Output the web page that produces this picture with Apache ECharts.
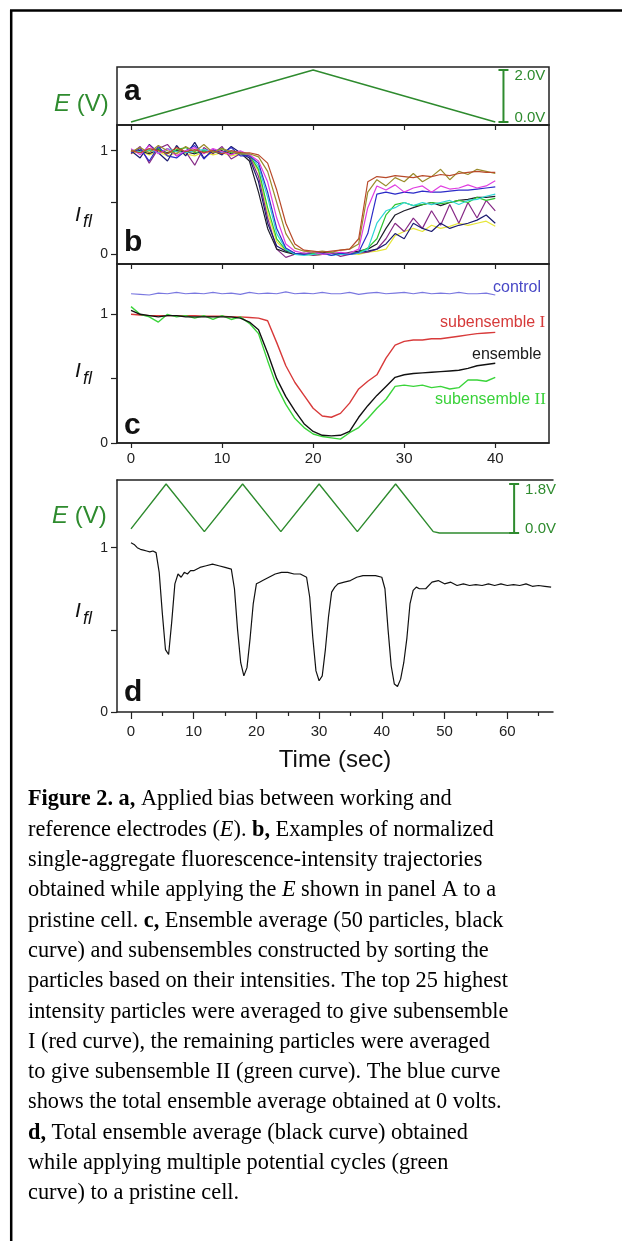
<!DOCTYPE html>
<html>
<head>
<meta charset="utf-8">
<script src="https://cdn.jsdelivr.net/npm/echarts@6/dist/echarts.min.js"></script>
<style>
html,body{margin:0;padding:0;background:#fff;}
#chart{width:622px;height:1241px;}
</style>
</head>
<body>
<div id="chart"></div>
<script>
// ---------------- DATA ----------------
// Panel a: applied bias (V)
const eTimesA = [0, 20, 40];
const eValsA = [0, 2.0, 0];
const scaleA = { t: 40.9, lo: 0, hi: 2.0, labels: ['0.0V', '2.0V'] };

// Panel b: single-aggregate trajectories, t = 0..40 s (1 s steps)
const tB = [0,1,2,3,4,5,6,7,8,9,10,11,12,13,14,15,16,17,18,19,20,21,22,23,24,25,26,27,28,29,30,31,32,33,34,35,36,37,38,39,40];
const brownB  = [1.0,0.98,1.02,1.0,0.97,1.03,0.99,1.01,0.98,1.0,0.97,1.0,0.98,0.98,0.96,0.88,0.62,0.3,0.1,0.04,0.03,0.02,0.03,0.04,0.05,0.15,0.7,0.75,0.74,0.76,0.75,0.74,0.76,0.75,0.77,0.76,0.78,0.79,0.8,0.79,0.79];
const oliveB  = [0.99,1.03,0.98,1.05,1.0,0.97,1.04,0.99,1.06,0.98,1.02,0.99,0.97,0.97,0.94,0.8,0.5,0.2,0.06,0.03,0.02,0.03,0.02,0.04,0.05,0.1,0.6,0.72,0.66,0.74,0.7,0.78,0.7,0.75,0.82,0.72,0.8,0.77,0.82,0.8,0.78];
const magentaB= [1.02,0.96,1.05,0.97,1.02,0.95,1.0,1.03,0.97,1.02,0.99,0.96,1.0,0.96,0.9,0.7,0.35,0.1,0.03,0.01,0.02,0.0,0.01,0.02,0.01,0.05,0.45,0.66,0.62,0.67,0.6,0.64,0.66,0.6,0.66,0.63,0.64,0.67,0.64,0.66,0.71];
const blueB   = [0.98,1.02,0.9,1.04,0.95,0.93,1.0,1.05,0.92,1.01,0.97,1.03,0.95,0.95,0.88,0.6,0.25,0.06,0.01,0.0,0.02,0.01,-0.01,0.01,0.0,0.02,0.2,0.58,0.6,0.58,0.6,0.59,0.61,0.6,0.6,0.61,0.62,0.62,0.63,0.64,0.65];
const cyanB   = [1.0,0.99,1.01,0.98,1.02,0.99,0.98,1.0,1.01,0.99,0.98,1.0,0.97,0.97,0.85,0.55,0.2,0.05,0.0,-0.01,0.0,0.01,-0.01,0.0,0.0,0.01,0.05,0.3,0.42,0.45,0.5,0.47,0.5,0.48,0.5,0.52,0.48,0.52,0.53,0.56,0.58];
const greenB  = [1.01,0.98,1.0,1.02,0.97,1.01,1.03,0.98,1.0,0.99,1.02,0.98,0.99,0.96,0.82,0.45,0.15,0.04,0.01,0.0,0.01,0.0,0.02,0.0,0.01,0.02,0.06,0.15,0.38,0.48,0.5,0.47,0.48,0.5,0.49,0.5,0.52,0.5,0.55,0.52,0.54];
const blackB  = [0.99,1.0,0.97,1.01,0.98,1.0,0.99,0.97,1.0,0.98,1.0,0.97,0.98,0.9,0.6,0.25,0.05,0.02,0.0,0.01,0.0,0.02,0.01,0.0,0.02,0.03,0.05,0.1,0.25,0.38,0.42,0.45,0.48,0.5,0.47,0.5,0.52,0.53,0.55,0.55,0.56];
const purpleB = [0.97,1.04,0.88,1.02,1.06,0.95,0.99,0.86,1.03,0.97,1.04,0.92,0.97,0.95,0.75,0.35,0.05,-0.03,0.0,0.01,-0.01,0.0,0.02,-0.02,0.0,0.01,0.02,0.05,0.15,0.3,0.22,0.35,0.25,0.42,0.28,0.48,0.3,0.5,0.35,0.52,0.42];
const navyB   = [1.0,0.93,1.06,0.98,0.9,1.05,0.95,1.08,0.93,1.0,0.96,1.04,0.98,0.93,0.7,0.3,0.08,0.03,0.01,0.0,0.02,0.0,0.01,0.0,0.0,0.02,0.03,0.05,0.1,0.2,0.15,0.3,0.25,0.22,0.3,0.25,0.28,0.3,0.33,0.38,0.3];
const yellowB = [0.97,1.0,0.96,0.99,0.95,0.98,0.97,0.95,0.99,0.96,0.98,0.95,0.97,0.95,0.8,0.4,0.12,0.03,0.01,0.0,-0.01,0.0,0.01,0.0,0.01,0.0,0.02,0.03,0.05,0.18,0.22,0.25,0.22,0.28,0.25,0.27,0.3,0.28,0.3,0.32,0.27];

// Panel c: ensemble averages, t = 0..40 s
const tC = [0,1,2,3,4,5,6,7,8,9,10,11,12,13,14,15,16,17,18,19,20,21,22,23,24,25,26,27,28,29,30,31,32,33,34,35,36,37,38,39,40];
const controlC = [1.16,1.155,1.15,1.165,1.16,1.17,1.16,1.165,1.16,1.17,1.16,1.165,1.155,1.17,1.16,1.165,1.16,1.175,1.16,1.165,1.16,1.17,1.16,1.16,1.17,1.155,1.165,1.17,1.16,1.165,1.17,1.16,1.17,1.16,1.165,1.16,1.17,1.16,1.16,1.165,1.15];
const subIC = [1.00,0.995,0.99,0.99,0.99,0.99,0.99,0.99,0.985,0.985,0.985,0.98,0.98,0.975,0.97,0.95,0.78,0.60,0.47,0.37,0.27,0.21,0.20,0.23,0.31,0.42,0.48,0.53,0.66,0.76,0.79,0.80,0.80,0.81,0.81,0.82,0.83,0.84,0.85,0.855,0.86];
const ensembleC = [1.03,1.0,0.99,0.98,0.99,0.99,0.98,0.98,0.98,0.98,0.98,0.98,0.97,0.94,0.88,0.70,0.50,0.36,0.25,0.15,0.09,0.06,0.055,0.06,0.09,0.20,0.29,0.37,0.44,0.51,0.53,0.54,0.545,0.55,0.555,0.56,0.565,0.58,0.60,0.61,0.62];
const subIIC = [1.06,1.0,0.98,0.94,1.0,0.98,0.99,0.97,0.99,0.96,0.99,0.96,0.98,0.93,0.85,0.64,0.44,0.30,0.19,0.12,0.07,0.05,0.04,0.03,0.08,0.12,0.19,0.27,0.34,0.44,0.45,0.44,0.45,0.43,0.44,0.42,0.43,0.49,0.49,0.48,0.51];
const curveLabelsC = ['control', 'subensemble ', 'I', 'ensemble', 'subensemble ', 'II'];

// Panel d: total ensemble under multiple cycles, [t, I]
const ensembleD = [[0,1.03],[0.5,1.02],[1,1.0],[1.5,0.99],[2,0.985],[2.5,0.98],[3,0.975],[3.5,0.98],[4,0.97],[4.5,0.85],[5,0.6],[5.5,0.38],[6,0.35],[6.5,0.55],[7,0.78],[7.5,0.84],[8,0.82],[8.5,0.85],[9,0.84],[9.5,0.86],[10,0.86],[11,0.88],[12,0.89],[13,0.9],[14,0.89],[15,0.88],[16,0.87],[16.5,0.75],[17,0.5],[17.5,0.3],[18,0.22],[18.5,0.27],[19,0.45],[19.5,0.66],[20,0.78],[20.5,0.79],[21,0.8],[22,0.82],[23,0.84],[24,0.85],[25,0.85],[26,0.84],[27,0.84],[28,0.82],[28.5,0.7],[29,0.45],[29.5,0.25],[30,0.19],[30.5,0.22],[31,0.38],[31.5,0.58],[32,0.73],[32.5,0.76],[33,0.78],[34,0.79],[35,0.8],[36,0.82],[37,0.83],[38,0.83],[39,0.83],[40,0.82],[40.5,0.75],[41,0.5],[41.5,0.28],[42,0.17],[42.5,0.155],[43,0.2],[43.5,0.3],[44,0.45],[44.5,0.66],[45,0.74],[45.5,0.76],[46,0.75],[47,0.75],[48,0.79],[49,0.8],[50,0.78],[51,0.79],[52,0.77],[53,0.78],[54,0.77],[55,0.775],[56,0.77],[57,0.78],[58,0.77],[59,0.78],[60,0.77],[61,0.775],[62,0.77],[63,0.78],[64,0.765],[65,0.77],[66,0.765],[67,0.76]];
const eTimesD = [0, 5.6, 11.7, 17.8, 23.9, 30.0, 36.1, 42.2, 48.2, 49.2, 61];
const eValsD  = [0.15, 1.8, 0.05, 1.8, 0.05, 1.8, 0.05, 1.8, 0.05, 0, 0];
const scaleD = { t: 61.1, lo: 0, hi: 1.8, labels: ['0.0V', '1.8V'] };

// Tick values / labels
const ticksABC = [0, 10, 20, 30, 40];
const ticksD = [0, 10, 20, 30, 40, 50, 60];
const minorTicksD = [5, 15, 25, 35, 45, 55, 65];
const yTicks = [0, 0.5, 1];
const yLabels = [0, 1];

// Caption lines (rich-text markup: b = bold, i = italic)
const captionLines = [
  '{b|Figure 2. a,}{n| Applied bias between working and}',
  '{n|reference electrodes (}{i|E}{n|). }{b|b,}{n| Examples of normalized}',
  '{n|single-aggregate fluorescence-intensity trajectories}',
  '{n|obtained while applying the }{i|E}{n| shown in panel A to a}',
  '{n|pristine cell. }{b|c,}{n| Ensemble average (50 particles, black}',
  '{n|curve) and subensembles constructed by sorting the}',
  '{n|particles based on their intensities. The top 25 highest}',
  '{n|intensity particles were averaged to give subensemble}',
  '{n|I (red curve), the remaining particles were averaged}',
  '{n|to give subensemble II (green curve). The blue curve}',
  '{n|shows the total ensemble average obtained at 0 volts.}',
  '{b|d,}{n| Total ensemble average (black curve) obtained}',
  '{n|while applying multiple potential cycles (green}',
  '{n|curve) to a pristine cell.}'
];

// ---------------- CHART ----------------
const SANS = '"Liberation Sans", Arial, sans-serif';
const SERIF = '"Liberation Serif", "Times New Roman", serif';
const GREEN = '#2e8b2e';
const AX = '#222';
const zip = (xs, ys) => xs.map((x, i) => [x, ys[i]]);

const chart = echarts.init(document.getElementById('chart'), null, { renderer: 'canvas' });

const gridsLeft = 117;
const grids = [
  { left: gridsLeft, top: 67, width: 432, height: 58, show: true, borderColor: AX, borderWidth: 1.5 },
  { left: gridsLeft, top: 125, width: 432, height: 139, show: true, borderColor: AX, borderWidth: 1.5 },
  { left: gridsLeft, top: 264, width: 432, height: 179, show: true, borderColor: AX, borderWidth: 1.5 },
  { left: gridsLeft, top: 480, width: 436, height: 232, show: false }
];

function xAbc(gi, showLabels) {
  return {
    type: 'value', gridIndex: gi, min: -1.54, max: 45.9, position: 'bottom',
    axisLine: { show: true, onZero: false, lineStyle: { color: AX, width: 1.5 } },
    axisTick: { show: true, inside: false, length: 5, customValues: ticksABC, lineStyle: { color: AX, width: 1.2 } },
    axisLabel: { show: showLabels, customValues: ticksABC, margin: 8, color: AX, fontSize: 15, fontFamily: SANS },
    splitLine: { show: false }
  };
}
function yI(gi, min, max) {
  return {
    type: 'value', gridIndex: gi, min: min, max: max, position: 'left',
    axisLine: { show: true, onZero: false, lineStyle: { color: AX, width: 1.5 } },
    axisTick: { show: true, inside: false, length: 6, customValues: yTicks, lineStyle: { color: AX, width: 1.2 } },
    axisLabel: { show: true, customValues: yLabels, margin: 9, color: AX, fontSize: 14, fontFamily: SANS },
    splitLine: { show: false }
  };
}

const xAxes = [
  xAbc(0, false),
  xAbc(1, false),
  xAbc(2, true),
  {
    type: 'value', gridIndex: 3, min: -2.23, max: 67.3, position: 'bottom',
    axisLine: { show: true, onZero: false, lineStyle: { color: AX, width: 1.5 } },
    axisTick: { show: true, length: 7, customValues: ticksD, lineStyle: { color: AX, width: 1.2 } },
    axisLabel: { show: true, customValues: ticksD, margin: 12, color: AX, fontSize: 15, fontFamily: SANS },
    splitLine: { show: false }
  },
  {
    type: 'value', gridIndex: 3, min: -2.23, max: 67.3, position: 'bottom', offset: 0,
    axisLine: { show: false, onZero: false },
    axisTick: { show: true, length: 4, customValues: minorTicksD, lineStyle: { color: AX, width: 1.2 } },
    axisLabel: { show: false, customValues: minorTicksD },
    splitLine: { show: false }
  },
  {
    type: 'value', gridIndex: 3, min: -2.23, max: 67.3, position: 'top',
    axisLine: { show: true, onZero: false, lineStyle: { color: AX, width: 1.5 } },
    axisTick: { show: false }, axisLabel: { show: false }, splitLine: { show: false }
  }
];

const yAxes = [
  { type: 'value', gridIndex: 0, min: -0.115, max: 2.115, show: false, axisLine: { onZero: false } },
  yI(1, -0.0936, 1.248),
  yI(2, 0, 1.391),
  yI(3, 0, 1.412),
  { type: 'value', gridIndex: 3, min: -6.575, max: 1.947, show: false, position: 'right', axisLine: { onZero: false } }
];

function lineSeries(xi, yi, data, color, width) {
  return {
    type: 'line', xAxisIndex: xi, yAxisIndex: yi, data: data, symbol: 'none',
    lineStyle: { color: color, width: width || 1.2 }, silent: true, animation: false, z: 3
  };
}

function scaleBar(xi, yi, sb) {
  return {
    type: 'custom', xAxisIndex: xi, yAxisIndex: yi, silent: true, animation: false, z: 6,
    data: [[sb.t, sb.lo, sb.hi]],
    renderItem: function (params, api) {
      const a = api.coord([api.value(0), api.value(1)]);
      const b = api.coord([api.value(0), api.value(2)]);
      const st = { stroke: GREEN, lineWidth: 2 };
      return {
        type: 'group', children: [
          { type: 'line', shape: { x1: a[0], y1: a[1], x2: b[0], y2: b[1] }, style: st },
          { type: 'line', shape: { x1: a[0] - 5, y1: a[1], x2: a[0] + 5, y2: a[1] }, style: st },
          { type: 'line', shape: { x1: b[0] - 5, y1: b[1], x2: b[0] + 5, y2: b[1] }, style: st },
          { type: 'text', x: b[0] + 11, y: b[1] + 6, style: { text: sb.labels[1], fill: GREEN, fontSize: 15, fontFamily: SANS, align: 'left', verticalAlign: 'middle' } },
          { type: 'text', x: a[0] + 11, y: a[1] - 4, style: { text: sb.labels[0], fill: GREEN, fontSize: 15, fontFamily: SANS, align: 'left', verticalAlign: 'middle' } }
        ]
      };
    }
  };
}

const bColors = ['#b84a2a', '#9a8c2c', '#e03ee0', '#2c2cc8', '#2fd6d6', '#2ec42e', '#1e1e2a', '#862a86', '#1c1c70', '#e6e63a'];
const bData = [brownB, oliveB, magentaB, blueB, cyanB, greenB, blackB, purpleB, navyB, yellowB];
const bOrder = [9, 7, 8, 6, 5, 4, 3, 2, 1, 0];

const series = [];
series.push(lineSeries(0, 0, zip(eTimesA, eValsA), GREEN, 1.4));
series.push(scaleBar(0, 0, scaleA));
bOrder.forEach(i => series.push(lineSeries(1, 1, zip(tB, bData[i]), bColors[i], 1.2)));
series.push(lineSeries(2, 2, zip(tC, controlC), '#7a78e0', 1.2));
series.push(lineSeries(2, 2, zip(tC, subIC), '#d83a3a', 1.4));
series.push(lineSeries(2, 2, zip(tC, subIIC), '#3ad43a', 1.4));
series.push(lineSeries(2, 2, zip(tC, ensembleC), '#111', 1.4));
series.push(lineSeries(3, 4, zip(eTimesD, eValsD), GREEN, 1.4));
series.push(lineSeries(3, 3, ensembleD, '#111', 1.2));
series.push(scaleBar(3, 4, scaleD));

function txt(x, y, text, opts) {
  return Object.assign({ type: 'text', x: x, y: y, silent: true, z: 10,
    style: Object.assign({ text: text, fill: '#111', fontFamily: SANS, fontSize: 16, align: 'left', verticalAlign: 'middle' }, opts || {}) });
}
function richLabel(x, y, text, rich, opts) {
  return { type: 'text', x: x, y: y, silent: true, z: 10,
    style: Object.assign({ text: text, rich: rich, align: 'left', verticalAlign: 'middle' }, opts || {}) };
}

const eRich = {
  i: { fontStyle: 'italic', fontSize: 24, fontFamily: SANS, fill: GREEN },
  n: { fontSize: 24, fontFamily: SANS, fill: GREEN }
};
const capRich = {
  n: { fontSize: 22.3, fontFamily: SERIF, fill: '#000' },
  b: { fontSize: 22.3, fontFamily: SERIF, fontWeight: 'bold', fill: '#000' },
  i: { fontSize: 22.3, fontFamily: SERIF, fontStyle: 'italic', fill: '#000' }
};

const graphics = [
  { type: 'line', silent: true, shape: { x1: 10, y1: 10.5, x2: 622, y2: 10.5 }, style: { stroke: '#000', lineWidth: 2.5 } },
  { type: 'line', silent: true, shape: { x1: 11.2, y1: 10, x2: 11.2, y2: 1241 }, style: { stroke: '#000', lineWidth: 2.5 } },
  // panel letters
  txt(124, 91.5, 'a', { fontSize: 30, fontWeight: 'bold' }),
  txt(124, 242.6, 'b', { fontSize: 30, fontWeight: 'bold' }),
  txt(124, 425.6, 'c', { fontSize: 30, fontWeight: 'bold' }),
  txt(124, 692.6, 'd', { fontSize: 30, fontWeight: 'bold' }),
  // E (V) labels
  richLabel(54, 104, '{i|E}{n| (V)}', eRich),
  richLabel(52, 516.5, '{i|E}{n| (V)}', eRich),
  // I_fl labels
  txt(75, 214.7, 'I', { fontSize: 21, fontStyle: 'italic' }),
  txt(83, 222, 'fl', { fontSize: 18, fontStyle: 'italic' }),
  txt(75, 371, 'I', { fontSize: 21, fontStyle: 'italic' }),
  txt(83, 378.5, 'fl', { fontSize: 18, fontStyle: 'italic' }),
  txt(75, 610.7, 'I', { fontSize: 21, fontStyle: 'italic' }),
  txt(83, 619, 'fl', { fontSize: 18, fontStyle: 'italic' }),
  // panel c curve labels
  txt(493, 287.5, curveLabelsC[0], { fill: '#4848c6' }),
  richLabel(440, 322.5, '{n|' + curveLabelsC[1] + '}{r|' + curveLabelsC[2] + '}', {
    n: { fontSize: 16, fontFamily: SANS, fill: '#d63a3a' }, r: { fontSize: 17, fontFamily: SERIF, fill: '#d63a3a' } }),
  txt(472, 354.5, curveLabelsC[3], { fill: '#1a1a1a' }),
  richLabel(435, 400, '{n|' + curveLabelsC[4] + '}{r|' + curveLabelsC[5] + '}', {
    n: { fontSize: 16, fontFamily: SANS, fill: '#3ad23a' }, r: { fontSize: 17, fontFamily: SERIF, fill: '#3ad23a' } }),
  // x axis title
  txt(335, 760, 'Time (sec)', { fontSize: 24, align: 'center', fill: '#111' })
];
captionLines.forEach((ln, i) => {
  graphics.push(richLabel(28, 799.6 + 30.3 * i, ln, capRich));
});

chart.setOption({
  animation: false,
  backgroundColor: '#fff',
  grid: grids,
  xAxis: xAxes,
  yAxis: yAxes,
  series: series,
  graphic: graphics
});
</script>
</body>
</html>
